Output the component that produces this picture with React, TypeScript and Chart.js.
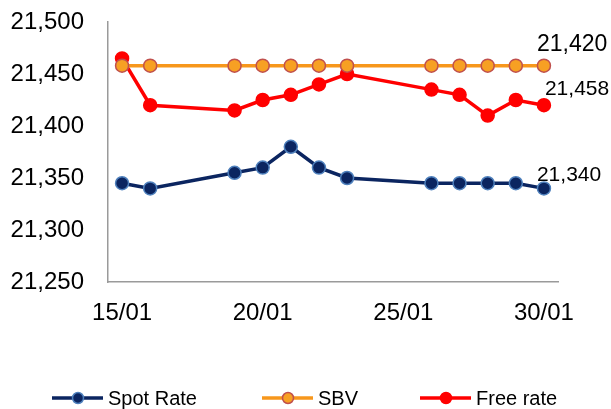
import React, { useEffect, useRef } from "react";
import { Chart, registerables } from "chart.js";

Chart.register(...registerables);

const days = [15, 16, 19, 20, 21, 22, 23, 26, 27, 28, 29, 30];
const spotRate = [21345, 21340, 21355, 21360, 21380, 21360, 21350, 21345, 21345, 21345, 21345, 21340];
const sbv = [21458, 21458, 21458, 21458, 21458, 21458, 21458, 21458, 21458, 21458, 21458, 21458];
const freeRate = [21465, 21420, 21415, 21425, 21430, 21440, 21450, 21435, 21430, 21410, 21425, 21420];
const xTicks = [15, 20, 25, 30];
const seriesNames = ["Spot Rate", "SBV", "Free rate"];
const endLabels = ["21,340", "21,420", "21,458"];

const FONT = "'Liberation Sans', Arial, sans-serif";

const styles = [
  { line: "#0b2560", fill: "#0b2560", border: "#4f81bd" },
  { line: "#f7971c", fill: "#f7a023", border: "#c0504d" },
  { line: "#ff0000", fill: "#ff0000", border: "#ff0000" },
];

const overlay = {
  id: "overlay",
  afterDraw(chart: any) {
    const ctx = chart.ctx;
    ctx.save();
    // end labels
    ctx.fillStyle = "#000";
    ctx.textBaseline = "middle";
    ctx.textAlign = "left";
    const offs = [
      [-7, -13],
      [-7, -21],
      [1, -16],
    ];
    const sizes = [21, 23, 21];
    chart.data.datasets.forEach((ds: any, i: number) => {
      const meta = chart.getDatasetMeta(i);
      const p = meta.data[meta.data.length - 1];
      ctx.font = `${sizes[i]}px ${FONT}`;
      ctx.fillText(endLabels[i], p.x + offs[i][0], p.y + offs[i][1]);
    });
    // legend
    const legendY = 398;
    const starts = [52, 262, 420];
    ctx.font = `20px ${FONT}`;
    seriesNames.forEach((name, i) => {
      const s = styles[i];
      const x0 = starts[i];
      ctx.strokeStyle = s.line;
      ctx.lineWidth = 3.5;
      ctx.beginPath();
      ctx.moveTo(x0, legendY);
      ctx.lineTo(x0 + 51, legendY);
      ctx.stroke();
      ctx.beginPath();
      ctx.arc(x0 + 26, legendY, 5.5, 0, Math.PI * 2);
      ctx.fillStyle = s.fill;
      ctx.fill();
      ctx.lineWidth = 1.5;
      ctx.strokeStyle = s.border;
      ctx.stroke();
      ctx.fillStyle = "#000";
      ctx.textAlign = "left";
      ctx.fillText(name, x0 + 56, legendY + 1);
    });
    ctx.restore();
  },
};

export default function App() {
  const ref = useRef<HTMLCanvasElement>(null);
  useEffect(() => {
    document.body.style.margin = "0";
    const series = [spotRate, sbv, freeRate];
    const chart = new Chart(ref.current!, {
      type: "line",
      data: {
        datasets: series.map((vals, i) => ({
          label: seriesNames[i],
          data: days.map((d, j) => ({ x: d, y: vals[j] })),
          borderColor: styles[i].line,
          backgroundColor: styles[i].fill,
          pointBackgroundColor: styles[i].fill,
          pointBorderColor: styles[i].border,
          pointBorderWidth: 1.5,
          pointRadius: 6.5,
          borderWidth: 3.5,
          tension: 0,
        })),
      },
      options: {
        animation: false,
        responsive: false,
        layout: { padding: { top: 22, right: 53, left: 0, bottom: 0 } },
        plugins: { legend: { display: false }, tooltip: { enabled: false } },
        scales: {
          x: {
            type: "linear",
            min: 14.5,
            max: 30.5,
            afterBuildTicks: (scale: any) => {
              scale.ticks = xTicks.map((v) => ({ value: v }));
            },
            afterFit: (scale: any) => {
              scale.height = 409 - 282;
              scale.paddingLeft = 0;
              scale.paddingRight = 0;
            },
            grid: { display: false, drawTicks: false },
            border: { display: true, color: "#9a9a9a", width: 1.5 },
            ticks: {
              color: "#000",
              font: { family: FONT, size: 24 },
              padding: 17,
              maxRotation: 0,
              callback: (v: any) => `${v}/01`,
            },
          },
          y: {
            min: 21250,
            max: 21500,
            afterFit: (scale: any) => {
              scale.width = 108;
              scale.paddingTop = 0;
              scale.paddingBottom = 0;
            },
            grid: { display: false, drawTicks: false },
            border: { display: true, color: "#9a9a9a", width: 1.5 },
            ticks: {
              stepSize: 50,
              color: "#000",
              font: { family: FONT, size: 24 },
              padding: 24,
              callback: (v: any) => Number(v).toLocaleString("en-US"),
            },
          },
        },
      },
      plugins: [overlay],
    });
    return () => chart.destroy();
  }, []);
  return <canvas ref={ref} width={611} height={409} style={{ display: "block" }} />;
}
